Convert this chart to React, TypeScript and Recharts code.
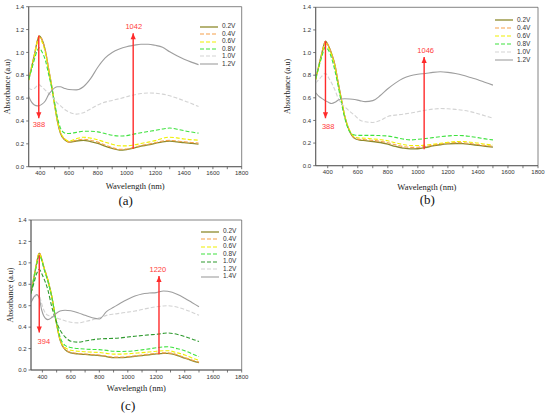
import React from 'react';
import { LineChart, Line, XAxis, YAxis, ReferenceArea, ReferenceDot } from 'recharts';

// axis ticks shared by the three panels
const X_TICKS = [400, 500, 600, 700, 800, 900, 1000, 1100, 1200, 1300, 1400, 1500, 1600, 1700, 1800];
const Y_TICKS = [0, 0.2, 0.4, 0.6, 0.8, 1.0, 1.2, 1.4];

// panel (a)
const WL_A = [320, 340, 360, 380, 393, 410, 435, 460, 480, 500, 520, 540, 570, 600, 650, 700, 750, 800, 850, 900, 950, 1000, 1050, 1100, 1150, 1200, 1250, 1300, 1350, 1400, 1450, 1500];
const A_02 = [0.76, 0.87, 0.98, 1.1, 1.145, 1.12, 1.02, 0.84, 0.7, 0.54, 0.395, 0.295, 0.235, 0.215, 0.225, 0.23, 0.22, 0.205, 0.18, 0.16, 0.145, 0.15, 0.162, 0.18, 0.19, 0.205, 0.218, 0.224, 0.218, 0.21, 0.204, 0.198];
const A_04 = [0.76, 0.875, 0.985, 1.105, 1.145, 1.12, 1.02, 0.85, 0.71, 0.55, 0.4, 0.3, 0.24, 0.215, 0.232, 0.24, 0.232, 0.215, 0.19, 0.168, 0.152, 0.155, 0.168, 0.185, 0.197, 0.21, 0.225, 0.23, 0.225, 0.218, 0.212, 0.207];
const A_06 = [0.755, 0.865, 0.975, 1.09, 1.13, 1.1, 1.0, 0.83, 0.7, 0.54, 0.4, 0.305, 0.245, 0.225, 0.245, 0.258, 0.25, 0.235, 0.215, 0.197, 0.183, 0.182, 0.19, 0.203, 0.215, 0.228, 0.248, 0.258, 0.252, 0.243, 0.236, 0.232];
const A_08 = [0.765, 0.85, 0.94, 1.02, 1.04, 1.01, 0.935, 0.8, 0.69, 0.56, 0.43, 0.34, 0.295, 0.29, 0.3, 0.31, 0.31, 0.305, 0.29, 0.275, 0.268, 0.272, 0.285, 0.297, 0.308, 0.318, 0.33, 0.338, 0.328, 0.315, 0.303, 0.294];
const A_10 = [0.69, 0.675, 0.685, 0.71, 0.716, 0.7, 0.67, 0.64, 0.615, 0.585, 0.555, 0.535, 0.5, 0.478, 0.46, 0.473, 0.505, 0.54, 0.565, 0.58, 0.595, 0.612, 0.628, 0.64, 0.645, 0.643, 0.635, 0.62, 0.6, 0.578, 0.553, 0.527];
const A_12 = [0.614, 0.565, 0.54, 0.532, 0.533, 0.545, 0.575, 0.635, 0.665, 0.69, 0.7, 0.7, 0.685, 0.675, 0.672, 0.7, 0.77, 0.87, 0.95, 1.0, 1.03, 1.05, 1.062, 1.072, 1.072, 1.062, 1.045, 1.005, 0.97, 0.94, 0.915, 0.893];

// panel (b)
const WL_B = [320, 340, 360, 385, 405, 426, 448, 470, 492, 514, 547, 580, 613, 650, 700, 750, 800, 850, 900, 950, 1000, 1050, 1100, 1150, 1200, 1250, 1300, 1350, 1400, 1450, 1500];
const B_02 = [0.766, 0.88, 0.99, 1.1, 1.06, 0.99, 0.89, 0.73, 0.58, 0.433, 0.3, 0.24, 0.227, 0.222, 0.214, 0.205, 0.19, 0.17, 0.156, 0.148, 0.15, 0.16, 0.175, 0.185, 0.192, 0.196, 0.195, 0.188, 0.18, 0.172, 0.165];
const B_04 = [0.765, 0.875, 0.985, 1.1, 1.06, 0.99, 0.89, 0.73, 0.58, 0.435, 0.305, 0.245, 0.233, 0.23, 0.224, 0.215, 0.203, 0.185, 0.17, 0.162, 0.163, 0.17, 0.182, 0.192, 0.2, 0.204, 0.203, 0.196, 0.187, 0.178, 0.172];
const B_06 = [0.76, 0.87, 0.975, 1.08, 1.045, 0.98, 0.88, 0.72, 0.575, 0.435, 0.31, 0.255, 0.245, 0.243, 0.237, 0.23, 0.22, 0.203, 0.188, 0.178, 0.178, 0.182, 0.19, 0.198, 0.207, 0.213, 0.214, 0.207, 0.2, 0.19, 0.182];
const B_08 = [0.77, 0.87, 0.96, 1.05, 1.02, 0.95, 0.84, 0.7, 0.55, 0.42, 0.3, 0.272, 0.268, 0.268, 0.268, 0.266, 0.262, 0.25, 0.236, 0.228, 0.233, 0.24, 0.248, 0.256, 0.263, 0.267, 0.266, 0.258, 0.248, 0.237, 0.228];
const B_10 = [0.73, 0.76, 0.79, 0.816, 0.78, 0.73, 0.67, 0.595, 0.55, 0.52, 0.48, 0.445, 0.404, 0.388, 0.382, 0.4, 0.435, 0.447, 0.455, 0.465, 0.477, 0.49, 0.5, 0.505, 0.503, 0.498, 0.49, 0.478, 0.46, 0.44, 0.42];
const B_12 = [0.645, 0.615, 0.595, 0.575, 0.56, 0.55, 0.56, 0.58, 0.59, 0.592, 0.59, 0.585, 0.575, 0.566, 0.575, 0.62, 0.68, 0.73, 0.77, 0.795, 0.808, 0.815, 0.825, 0.83, 0.825, 0.815, 0.8, 0.78, 0.76, 0.735, 0.712];

// panel (c)
const WL_C = [320, 340, 360, 378, 395, 410, 438, 466, 494, 524, 559, 600, 650, 700, 750, 800, 850, 900, 950, 1000, 1050, 1100, 1150, 1200, 1250, 1280, 1350, 1400, 1450, 1500];
const C_02 = [0.716, 0.86, 1.0, 1.09, 1.035, 0.96, 0.84, 0.685, 0.467, 0.28, 0.19, 0.16, 0.15, 0.145, 0.14, 0.135, 0.125, 0.115, 0.115, 0.12, 0.127, 0.135, 0.142, 0.15, 0.155, 0.155, 0.135, 0.11, 0.088, 0.068];
const C_04 = [0.72, 0.865, 1.005, 1.095, 1.04, 0.965, 0.845, 0.69, 0.47, 0.285, 0.195, 0.165, 0.155, 0.15, 0.145, 0.14, 0.13, 0.12, 0.12, 0.125, 0.132, 0.14, 0.148, 0.155, 0.16, 0.16, 0.14, 0.115, 0.093, 0.073];
const C_06 = [0.715, 0.855, 0.995, 1.085, 1.035, 0.96, 0.84, 0.685, 0.47, 0.29, 0.21, 0.185, 0.175, 0.17, 0.167, 0.163, 0.155, 0.148, 0.148, 0.152, 0.157, 0.162, 0.168, 0.175, 0.18, 0.18, 0.16, 0.14, 0.113, 0.09];
const C_08 = [0.71, 0.85, 0.985, 1.07, 1.025, 0.95, 0.83, 0.68, 0.48, 0.31, 0.23, 0.21, 0.2, 0.195, 0.192, 0.19, 0.183, 0.175, 0.173, 0.175, 0.18, 0.188, 0.197, 0.207, 0.215, 0.217, 0.198, 0.18, 0.152, 0.125];
const C_10 = [0.72, 0.81, 0.9, 0.94, 0.9, 0.856, 0.75, 0.59, 0.467, 0.373, 0.31, 0.268, 0.26, 0.27, 0.282, 0.29, 0.293, 0.295, 0.3, 0.308, 0.315, 0.322, 0.328, 0.333, 0.342, 0.345, 0.332, 0.312, 0.29, 0.265];
const C_12 = [0.64, 0.67, 0.695, 0.69, 0.62, 0.56, 0.51, 0.5, 0.49, 0.475, 0.46, 0.445, 0.44, 0.452, 0.468, 0.487, 0.51, 0.522, 0.53, 0.54, 0.55, 0.565, 0.578, 0.59, 0.598, 0.6, 0.585, 0.565, 0.54, 0.51];
const C_14 = [0.63, 0.68, 0.705, 0.67, 0.56, 0.505, 0.47, 0.49, 0.525, 0.55, 0.558, 0.553, 0.535, 0.51, 0.487, 0.476, 0.545, 0.585, 0.625, 0.66, 0.69, 0.71, 0.718, 0.722, 0.738, 0.735, 0.705, 0.67, 0.63, 0.59];

const RED = '#ff2a2a';
const OLIVE = '#8d8a2c';
const ORANGE = '#f5a04a';
const YELLOW = '#f0f000';
const GREEN = '#3fe23f';
const DKGREEN = '#2f9a2f';
const LTGRAY = '#d3d3d3';
const GRAY = '#9e9e9e';

type Series = { name: string; color: string; dash?: string; width: number; wl: number[]; values: number[] };
type Arrow = { x: number; from: number; to: number };
type Note = { x: number; y: number; text: string };

const seriesA: Series[] = [
  { name: '0.2V', color: OLIVE, width: 1.3, wl: WL_A, values: A_02 },
  { name: '0.4V', color: ORANGE, dash: '4 2', width: 1.1, wl: WL_A, values: A_04 },
  { name: '0.6V', color: YELLOW, dash: '4 2', width: 1.1, wl: WL_A, values: A_06 },
  { name: '0.8V', color: GREEN, dash: '4 2', width: 1.1, wl: WL_A, values: A_08 },
  { name: '1.0V', color: LTGRAY, dash: '4 2', width: 1.1, wl: WL_A, values: A_10 },
  { name: '1.2V', color: GRAY, width: 1.1, wl: WL_A, values: A_12 },
];
const seriesB: Series[] = [
  { name: '0.2V', color: OLIVE, width: 1.3, wl: WL_B, values: B_02 },
  { name: '0.4V', color: ORANGE, dash: '4 2', width: 1.1, wl: WL_B, values: B_04 },
  { name: '0.6V', color: YELLOW, dash: '4 2', width: 1.1, wl: WL_B, values: B_06 },
  { name: '0.8V', color: GREEN, dash: '4 2', width: 1.1, wl: WL_B, values: B_08 },
  { name: '1.0V', color: LTGRAY, dash: '4 2', width: 1.1, wl: WL_B, values: B_10 },
  { name: '1.2V', color: GRAY, width: 1.1, wl: WL_B, values: B_12 },
];
const seriesC: Series[] = [
  { name: '0.2V', color: OLIVE, width: 1.3, wl: WL_C, values: C_02 },
  { name: '0.4V', color: ORANGE, dash: '4 2', width: 1.1, wl: WL_C, values: C_04 },
  { name: '0.6V', color: YELLOW, dash: '4 2', width: 1.1, wl: WL_C, values: C_06 },
  { name: '0.8V', color: GREEN, dash: '4 2', width: 1.1, wl: WL_C, values: C_08 },
  { name: '1.0V', color: DKGREEN, dash: '4 2', width: 1.1, wl: WL_C, values: C_10 },
  { name: '1.2V', color: LTGRAY, dash: '4 2', width: 1.1, wl: WL_C, values: C_12 },
  { name: '1.4V', color: GRAY, width: 1.1, wl: WL_C, values: C_14 },
];

const arrowsA: Arrow[] = [{ x: 390, from: 1.145, to: 0.425 }, { x: 1046, from: 0.158, to: 1.167 }];
const notesA: Note[] = [{ x: 391, y: 0.373, text: '388' }, { x: 1050, y: 1.23, text: '1042' }];
const arrowsB: Arrow[] = [{ x: 385, from: 1.1, to: 0.42 }, { x: 1042, from: 0.146, to: 0.96 }];
const notesB: Note[] = [{ x: 403, y: 0.345, text: '388' }, { x: 1052, y: 1.02, text: '1046' }];
const arrowsC: Arrow[] = [{ x: 378, from: 1.07, to: 0.35 }, { x: 1219, from: 0.146, to: 0.877 }];
const notesC: Note[] = [{ x: 410, y: 0.27, text: '394' }, { x: 1211, y: 0.943, text: '1220' }];

const SANS = '"Liberation Sans", Arial, sans-serif';
const SERIF = '"Liberation Serif", "Times New Roman", serif';

const arrowHead = (up: boolean) => (p: any) => {
  if (p.index !== 1) return <g key={`s${p.index}`} />;
  const { cx, cy } = p;
  const b = up ? cy + 6 : cy - 6;
  return <polygon key="head" points={`${cx},${cy} ${cx - 2.6},${b} ${cx + 2.6},${b}`} fill={RED} />;
};

type PanelProps = {
  left: number; top: number; width: number; height: number;
  margin: { top: number; right: number; bottom: number; left: number };
  yWidth: number; yLabelOffset: number; xLabelOffset: number;
  series: Series[]; arrows: Arrow[]; notes: Note[];
};

function Panel(props: PanelProps) {
  const { series, arrows, notes } = props;
  return (
    <div style={{ position: 'absolute', left: props.left, top: props.top }}>
      <LineChart width={props.width} height={props.height} margin={props.margin}>
        <XAxis
          type="number" dataKey="w" domain={[320, 1800]} ticks={X_TICKS} allowDataOverflow
          tickFormatter={(v: number) => (v % 200 === 0 ? String(v) : '')}
          tick={{ fontSize: 6, fill: '#333', fontFamily: SANS }}
          tickSize={2.5} tickMargin={2} height={30}
          stroke="#555" strokeWidth={0.8}
          label={{ value: 'Wavelength (nm)', position: 'insideBottom', offset: props.xLabelOffset, fontSize: 8.5, fill: '#222', fontFamily: SERIF }}
        />
        <YAxis
          type="number" domain={[0, 1.4]} ticks={Y_TICKS} allowDataOverflow
          tickFormatter={(v: number) => v.toFixed(1)}
          tick={{ fontSize: 6, fill: '#333', fontFamily: SANS }}
          tickSize={2.5} tickMargin={2} width={props.yWidth}
          stroke="#555" strokeWidth={0.8}
          label={{ value: 'Absorbance (a.u)', angle: -90, position: 'insideLeft', offset: props.yLabelOffset, style: { textAnchor: 'middle' }, fontSize: 8, fill: '#222', fontFamily: SERIF }}
        />
        <ReferenceArea x1={320} x2={1800} y1={0} y2={1.4} fill="none" stroke="#666" strokeWidth={0.8} ifOverflow="visible" />
        {series.map((s) => (
          <Line
            key={s.name}
            data={s.wl.map((w, i) => ({ w, a: s.values[i] }))}
            dataKey="a" type="monotone" stroke={s.color} strokeWidth={s.width}
            strokeDasharray={s.dash} dot={false} activeDot={false} isAnimationActive={false}
          />
        ))}
        {arrows.map((a, i) => (
          <Line
            key={`arrow${i}`}
            data={[{ w: a.x, a: a.from }, { w: a.x, a: a.to }]}
            dataKey="a" type="linear" stroke={RED} strokeWidth={1.4}
            dot={arrowHead(a.to > a.from)} activeDot={false} isAnimationActive={false}
          />
        ))}
        {notes.map((n) => (
          <ReferenceDot
            key={n.text} x={n.x} y={n.y} r={0} fill="none" stroke="none" ifOverflow="visible"
            label={{ value: n.text, position: 'center', fill: '#ff3c3c', fontSize: 7.5, fontFamily: SANS }}
          />
        ))}
      </LineChart>
    </div>
  );
}

function SeriesLegend({ items, left, top, step }: { items: Series[]; left: number; top: number; step: number }) {
  return (
    <div style={{ position: 'absolute', left, top }}>
      {items.map((s, i) => (
        <div key={s.name} style={{ position: 'absolute', left: 0, top: i * step - step / 2, height: step, display: 'flex', alignItems: 'center', whiteSpace: 'nowrap' }}>
          <svg width={18} height={4} style={{ display: 'block' }}>
            <line x1={0} y1={2} x2={18} y2={2} stroke={s.color} strokeWidth={s.width} strokeDasharray={s.dash} />
          </svg>
          <span style={{ marginLeft: 4, fontFamily: SANS, fontSize: 6.5, color: '#333', lineHeight: 1 }}>{s.name}</span>
        </div>
      ))}
    </div>
  );
}

function Caption({ x, y, text }: { x: number; y: number; text: string }) {
  return (
    <div style={{ position: 'absolute', left: x - 20, top: y - 8, width: 40, height: 16, lineHeight: '16px', textAlign: 'center', fontFamily: SERIF, fontSize: 13, color: '#111' }}>
      {text}
    </div>
  );
}

export default function App() {
  return (
    <div style={{ position: 'absolute', left: 0, top: 0, width: 550, height: 417, background: '#fff', overflow: 'hidden' }}>
      <Panel left={0} top={0} width={250} height={200} margin={{ top: 6.7, right: 8.3, bottom: 3.3, left: 0 }}
        yWidth={28.7} yLabelOffset={7} xLabelOffset={8.2} series={seriesA} arrows={arrowsA} notes={notesA} />
      <Panel left={275} top={0} width={275} height={200} margin={{ top: 7.3, right: 12, bottom: 4.3, left: 0 }}
        yWidth={40.7} yLabelOffset={11.7} xLabelOffset={6.2} series={seriesB} arrows={arrowsB} notes={notesB} />
      <Panel left={0} top={210} width={250} height={190} margin={{ top: 10, right: 8.3, bottom: 0, left: 0 }}
        yWidth={31} yLabelOffset={10} xLabelOffset={9.3} series={seriesC} arrows={arrowsC} notes={notesC} />
      <SeriesLegend items={seriesA} left={200} top={26.7} step={7.45} />
      <SeriesLegend items={seriesB} left={495} top={20} step={8} />
      <SeriesLegend items={seriesC} left={201} top={231.7} step={7.5} />
      <Caption x={125.7} y={201} text="(a)" />
      <Caption x={427.3} y={200} text="(b)" />
      <Caption x={128} y={406} text="(c)" />
    </div>
  );
}
